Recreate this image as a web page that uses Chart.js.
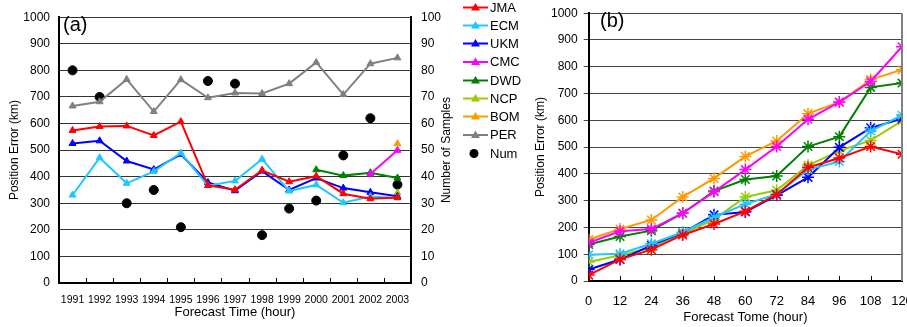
<!DOCTYPE html>
<html><head><meta charset="utf-8">
<script src="https://cdn.jsdelivr.net/npm/chart.js@4.4.1/dist/chart.umd.min.js"></script>
<style>
html,body{margin:0;padding:0;overflow:hidden;background:#fff;width:907px;height:327px}
#a{position:absolute;left:0;top:0}
#b{position:absolute;left:530px;top:0}
</style></head><body>
<canvas id="a" width="540" height="327"></canvas>
<canvas id="b" width="385" height="327"></canvas>
<script>
// ---------- Panel (a) data ----------
const years = ['1991','1992','1993','1994','1995','1996','1997','1998','1999','2000','2001','2002','2003'];
const jmaA = [574, 589, 591, 555, 607, 367, 351, 424, 381, 402, 336, 317, 322];
const ecmA = [331, 471, 375, 420, 489, 366, 384, 466, 346, 369, 302, 325, 320];
const ukmA = [525, 535, 459, 427, 484, 378, 347, 421, 350, 395, 357, 341, 326];
const cmcA = [null, null, null, null, null, null, null, null, null, null, null, 410, 499];
const dwdA = [null, null, null, null, null, null, null, null, null, 426, 404, 415, 395];
const ncpA = [null, null, null, null, null, null, null, null, null, null, null, null, 339];
const bomA = [null, null, null, null, null, null, null, null, null, null, null, null, 524];
const perA = [666, 682, 766, 645, 765, 697, 715, 713, 750, 830, 709, 825, 847];
const numA = [80, 70, 30, 35, 21, 76, 75, 18, 28, 31, 48, 62, 37];

// ---------- Panel (b) data ----------
const hours = [0, 12, 24, 36, 48, 60, 72, 84, 96, 108, 120];
const jmaB = [22, 81, 117, 172, 213, 260, 323, 424, 459, 502, 473];
const ecmB = [98, 102, 139, 182, 238, 287, 324, 416, 446, 560, 619];
const ukmB = [43, 80, 133, 180, 247, 258, 320, 387, 499, 572, 606];
const cmcB = [143, 186, 194, 253, 333, 416, 502, 604, 668, 745, 875];
const dwdB = [136, 166, 188, 253, 336, 379, 392, 502, 539, 723, 739];
const ncpB = [71, 96, 124, 175, 230, 314, 339, 432, 486, 525, 598];
const bomB = [155, 194, 228, 314, 383, 465, 523, 625, 668, 752, 789];

const names = ['JMA','ECM','UKM','CMC','DWD','NCP','BOM','PER'];
const colors = {JMA:'#ff0000', ECM:'#1ec8ff', UKM:'#0000ff', CMC:'#ff00ff', DWD:'#008000', NCP:'#99cc00', BOM:'#ff9900', PER:'#808080'};

const FONT = "'Liberation Sans', Arial, sans-serif";
Chart.defaults.font.family = FONT;
Chart.defaults.color = '#000';
const plain = v => String(v);

function lineDs(label, data, style, r, axis) {
  return {label, data, borderColor: colors[label], backgroundColor: colors[label],
    borderWidth: 2, pointStyle: style, pointRadius: r, pointBorderWidth: style === 'star' ? 1.5 : 1,
    pointBorderColor: colors[label], pointBackgroundColor: colors[label],
    tension: 0, spanGaps: false, yAxisID: axis || 'y', fill: false};
}

// ---------- Panel (a) ----------
const seriesA = {JMA: jmaA, ECM: ecmA, UKM: ukmA, CMC: cmcA, DWD: dwdA, NCP: ncpA, BOM: bomA, PER: perA};
const dsA = names.map(n => lineDs(n, seriesA[n], 'triangle', 4));
dsA.push({label: 'Num', data: numA, yAxisID: 'y1', showLine: false, pointStyle: 'circle',
  pointRadius: 4.5, pointBackgroundColor: '#000', pointBorderColor: '#000', borderColor: '#000', backgroundColor: '#000'});

const pluginA = {
  id: 'extrasA',
  afterDraw(chart) {
    const ctx = chart.ctx, ca = chart.chartArea, xs = chart.scales.x;
    ctx.save();
    ctx.strokeStyle = '#000'; ctx.lineWidth = 1;
    const step = xs.getPixelForValue(1) - xs.getPixelForValue(0);
    for (let i = 1; i < years.length; i++) {
      const x = Math.round(xs.getPixelForValue(i) - step / 2) + 0.5;
      ctx.beginPath(); ctx.moveTo(x, ca.bottom); ctx.lineTo(x, ca.bottom - 5); ctx.stroke();
    }
    ctx.fillStyle = '#000';
    ctx.font = '20px ' + FONT; ctx.textAlign = 'left'; ctx.textBaseline = 'middle';
    ctx.fillText('(a)', 63, 25);
    ctx.save();
    ctx.translate(447, (ca.top + ca.bottom) / 2);
    ctx.rotate(-Math.PI / 2);
    ctx.font = '12px ' + FONT; ctx.textAlign = 'center'; ctx.textBaseline = 'middle';
    ctx.fillText('Number of Samples', 0, 0);
    ctx.restore();
    const rows = [7.5, 25.5, 43.5, 62, 80.5, 98.5, 116.5, 135, 153.5];
    ctx.font = '13px ' + FONT; ctx.textAlign = 'left'; ctx.textBaseline = 'middle';
    chart.data.datasets.forEach((ds, i) => {
      const y = rows[i];
      if (ds.label === 'Num') {
        ctx.fillStyle = '#000';
        ctx.beginPath(); ctx.arc(474, y, 4.5, 0, Math.PI * 2); ctx.fill();
      } else {
        ctx.strokeStyle = ds.borderColor; ctx.lineWidth = 2;
        ctx.beginPath(); ctx.moveTo(463, y); ctx.lineTo(488, y); ctx.stroke();
        ctx.fillStyle = ds.borderColor;
        ctx.beginPath();
        ctx.moveTo(475.5, y - 4.5); ctx.lineTo(480, y + 3); ctx.lineTo(471, y + 3); ctx.closePath(); ctx.fill();
      }
      ctx.fillStyle = '#000';
      ctx.fillText(ds.label, 490, y + 0.5);
    });
    ctx.restore();
  }
};

new Chart(document.getElementById('a'), {
  type: 'line',
  data: {labels: years, datasets: dsA},
  options: {
    responsive: false, animation: false, devicePixelRatio: 1,
    layout: {padding: {left: 0, right: 79, top: 11, bottom: 0}},
    plugins: {legend: {display: false}, tooltip: {enabled: false}},
    scales: {
      x: {type: 'category', offset: true,
        grid: {display: false, drawTicks: false},
        border: {display: true, color: '#000', width: 2},
        ticks: {font: {size: 10.5}, maxRotation: 0, autoSkip: false, padding: 11},
        title: {display: true, text: 'Forecast Time (hour)', font: {size: 13}, padding: {top: 0, bottom: 7}},
        afterFit: s => { s.height = 44; s.paddingLeft = 0; s.paddingRight = 0; }
      },
      y: {position: 'left', min: 0, max: 1000,
        ticks: {stepSize: 100, font: {size: 12}, padding: 9, callback: plain},
        grid: {color: '#333', lineWidth: 1, drawTicks: false},
        border: {display: true, color: '#000', width: 2},
        title: {display: true, text: 'Position Error (km)', font: {size: 12}, padding: {top: 7, bottom: 0}},
        afterFit: s => { s.width = 59; }
      },
      y1: {position: 'right', min: 0, max: 100,
        ticks: {stepSize: 10, font: {size: 12}, padding: 10, callback: plain},
        grid: {drawOnChartArea: false, drawTicks: false},
        border: {display: true, color: '#000', width: 2},
        afterFit: s => { s.width = 50; }
      }
    }
  },
  plugins: [pluginA]
});

// ---------- Panel (b) ----------
const seriesB = {JMA: jmaB, ECM: ecmB, UKM: ukmB, CMC: cmcB, DWD: dwdB, NCP: ncpB, BOM: bomB};
const dsB = names.filter(n => n !== 'PER').map(n => lineDs(n, hours.map((h, i) => ({x: h, y: seriesB[n][i]})), 'star', 6));

const pluginB = {
  id: 'extrasB',
  afterDraw(chart) {
    const ctx = chart.ctx, ca = chart.chartArea, xs = chart.scales.x;
    ctx.save();
    ctx.strokeStyle = '#000'; ctx.lineWidth = 1;
    hours.forEach(h => {
      if (h === 0) return;
      const x = Math.round(xs.getPixelForValue(h)) + 0.5;
      ctx.beginPath(); ctx.moveTo(x, ca.bottom); ctx.lineTo(x, ca.bottom - 5); ctx.stroke();
    });
    ctx.strokeStyle = '#808080'; ctx.lineWidth = 2;
    ctx.beginPath(); ctx.moveTo(ca.right, ca.top); ctx.lineTo(ca.right, ca.bottom); ctx.stroke();
    ctx.fillStyle = '#000';
    ctx.font = '20px ' + FONT; ctx.textAlign = 'left'; ctx.textBaseline = 'middle';
    ctx.fillText('(b)', 70, 21);
    ctx.restore();
  }
};

new Chart(document.getElementById('b'), {
  type: 'line',
  data: {datasets: dsB},
  options: {
    responsive: false, animation: false, devicePixelRatio: 1,
    layout: {padding: {left: 0, right: 13, top: 11, bottom: 0}},
    plugins: {legend: {display: false}, tooltip: {enabled: false}},
    scales: {
      x: {type: 'linear', min: 0, max: 120,
        grid: {display: false, drawTicks: false},
        border: {display: true, color: '#000', width: 2},
        ticks: {stepSize: 12, font: {size: 13}, maxRotation: 0, autoSkip: false, padding: 13, callback: plain},
        title: {display: true, text: 'Forecast Tome (hour)', font: {size: 13}, padding: {top: 0, bottom: 2}},
        afterFit: s => { s.height = 46; s.paddingLeft = 0; s.paddingRight = 0; }
      },
      y: {position: 'left', min: 0, max: 1000,
        ticks: {stepSize: 100, font: {size: 12}, padding: 6, callback: plain},
        grid: {color: '#444', lineWidth: 1, drawTicks: true, tickLength: 5},
        border: {display: true, color: '#000', width: 2},
        title: {display: true, text: 'Position Error (km)', font: {size: 12}, padding: {top: 3, bottom: 0}},
        afterFit: s => { s.width = 58.7; }
      }
    }
  },
  plugins: [pluginB]
});
</script>
</body></html>
